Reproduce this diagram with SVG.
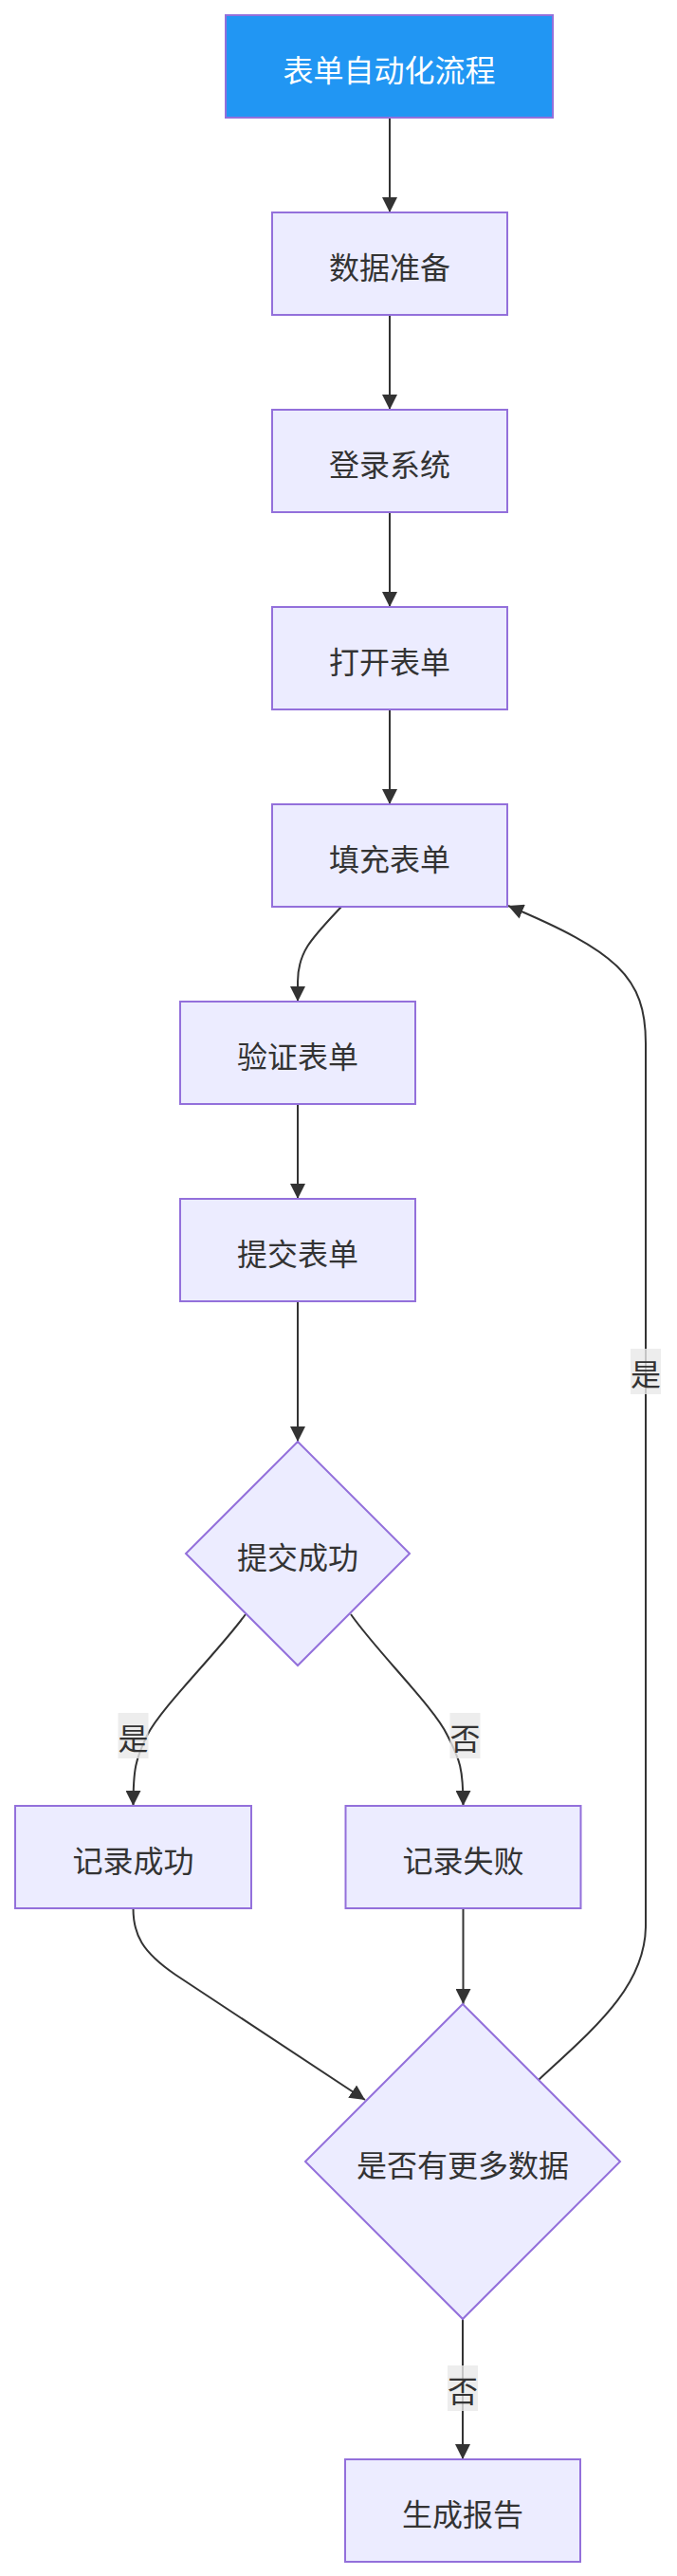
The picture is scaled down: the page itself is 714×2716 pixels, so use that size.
<svg xmlns="http://www.w3.org/2000/svg" width="714" height="2716" viewBox="0 0 714 2716">
<style>
.node rect,.node polygon{fill:#ECECFF;stroke:#9370DB;stroke-width:2}
.node text{font-family:"Noto Sans CJK SC","Noto Sans",sans-serif;font-size:32px;fill:#333333;text-anchor:middle;dominant-baseline:central}
#title rect{fill:#2196F3}
#title text{fill:#ffffff}
.edge{fill:none;stroke:#333333;stroke-width:2}
.lbl rect{fill:#e8e8e8;fill-opacity:0.8}
.lbl text{font-family:"Noto Sans CJK SC","Noto Sans",sans-serif;font-size:32px;fill:#333333;text-anchor:middle;dominant-baseline:central}
</style>
<defs>
<marker id="arr" viewBox="0 0 10 10" refX="10" refY="5" markerUnits="userSpaceOnUse" markerWidth="16" markerHeight="16" orient="auto">
<path d="M0,0 L10,5 L0,10 z" fill="#333333"/>
</marker>
</defs>
<rect width="714" height="2716" fill="#ffffff"/>
<g id="connectors">
<path class="edge" d="M411,124 L411,224" marker-end="url(#arr)"/>
<path class="edge" d="M411,332 L411,432" marker-end="url(#arr)"/>
<path class="edge" d="M411,540 L411,640" marker-end="url(#arr)"/>
<path class="edge" d="M411,748 L411,848" marker-end="url(#arr)"/>
<path class="edge" d="M360,956 C330,988 314,1003 314,1035 L314,1056" marker-end="url(#arr)"/>
<path class="edge" d="M314,1164 L314,1264" marker-end="url(#arr)"/>
<path class="edge" d="M314,1372 L314,1520" marker-end="url(#arr)"/>
<path class="edge" d="M259,1702 C230,1742 170,1800 155,1830 C143,1855 140.5,1865 140.5,1904" marker-end="url(#arr)"/>
<path class="edge" d="M370,1702 C398,1742 458,1800 472,1830 C485,1855 488.5,1865 488.5,1904" marker-end="url(#arr)"/>
<path class="edge" d="M140.5,2012 C140.5,2040 150,2058 185,2082 L385,2214" marker-end="url(#arr)"/>
<path class="edge" d="M488.5,2012 L488.5,2113" marker-end="url(#arr)"/>
<path class="edge" d="M568,2193 C625,2140 681,2095 681,2030 L681,1100 C681,1030 650,1003 536,955" marker-end="url(#arr)"/>
<path class="edge" d="M488,2445 L488,2593" marker-end="url(#arr)"/>
<g class="lbl"><rect x="124.5" y="1806" width="32" height="48"/><text x="140.5" y="1831">是</text></g>
<g class="lbl"><rect x="474.5" y="1806" width="32" height="48"/><text x="490.5" y="1831">否</text></g>
<g class="lbl"><rect x="665" y="1422" width="32" height="48"/><text x="681" y="1447">是</text></g>
<g class="lbl"><rect x="472" y="2494" width="32" height="48"/><text x="488" y="2519">否</text></g>
</g>
<g id="title" class="node"><rect x="238" y="16" width="345" height="108"/><text x="410.5" y="72">表单自动化流程</text></g>
<g id="prep" class="node"><rect x="287" y="224" width="248" height="108"/><text x="411" y="280">数据准备</text></g>
<g id="login" class="node"><rect x="287" y="432" width="248" height="108"/><text x="411" y="488">登录系统</text></g>
<g id="open" class="node"><rect x="287" y="640" width="248" height="108"/><text x="411" y="696">打开表单</text></g>
<g id="fill" class="node"><rect x="287" y="848" width="248" height="108"/><text x="411" y="904">填充表单</text></g>
<g id="validate" class="node"><rect x="190" y="1056" width="248" height="108"/><text x="314" y="1112">验证表单</text></g>
<g id="submit" class="node"><rect x="190" y="1264" width="248" height="108"/><text x="314" y="1320">提交表单</text></g>
<g id="success" class="node"><polygon points="314,1520 432,1638 314,1756 196,1638"/><text x="314" y="1640">提交成功</text></g>
<g id="logok" class="node"><rect x="16" y="1904" width="249" height="108"/><text x="140.5" y="1960">记录成功</text></g>
<g id="logfail" class="node"><rect x="364.5" y="1904" width="248" height="108"/><text x="488.5" y="1960">记录失败</text></g>
<g id="more" class="node"><polygon points="488,2113 654,2279 488,2445 322,2279"/><text x="488" y="2281">是否有更多数据</text></g>
<g id="report" class="node"><rect x="364" y="2593" width="248" height="108"/><text x="488" y="2649">生成报告</text></g>
</svg>
